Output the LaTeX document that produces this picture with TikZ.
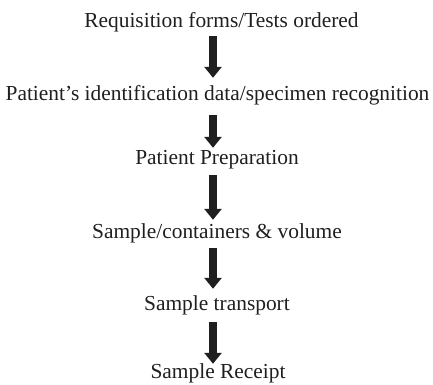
\documentclass[tikz,border=0pt]{standalone}
\usepackage{fontspec}
\setmainfont{Liberation Serif}
\usetikzlibrary{arrows.meta}
\begin{document}
\begin{tikzpicture}[x=1pt,y=-1pt,
  lbl/.style={font=\fontsize{21.4}{24}\selectfont, anchor=base, inner sep=0pt, text height=14pt, text depth=4pt, text=black!88},
  bigarrow/.style={line width=8pt, -{Triangle[length=11pt,width=17pt]}, draw=black!88}]
\useasboundingbox (0,0) rectangle (433,384);
\node[lbl] (n1) at (221.5,27) {Requisition forms/Tests ordered};
\node[lbl] (n2) at (217.5,100) {Patient’s identification data/specimen recognition};
\node[lbl] (n3) at (217,164) {Patient Preparation};
\node[lbl] (n4) at (217,238) {Sample/containers \& volume};
\node[lbl] (n5) at (217,310) {Sample transport};
\node[lbl] (n6) at (218,378.5) {Sample Receipt};
\draw[bigarrow] ([xshift=-8.5pt,yshift=-5pt]n1.south) -- ([xshift=-4.5pt,yshift=8pt]n2.north);
\draw[bigarrow] ([xshift=-4.5pt,yshift=-11pt]n2.south) -- ([xshift=-4pt,yshift=2pt]n3.north);
\draw[bigarrow] ([xshift=-4pt,yshift=-7pt]n3.south) -- ([xshift=-4pt,yshift=4pt]n4.north);
\draw[bigarrow] ([xshift=-4pt,yshift=-6pt]n4.south) -- ([xshift=-4pt,yshift=7pt]n5.north);
\draw[bigarrow] ([xshift=-4pt,yshift=-8pt]n5.south) -- ([xshift=-5pt,yshift=0.5pt]n6.north);
\end{tikzpicture}
\end{document}
